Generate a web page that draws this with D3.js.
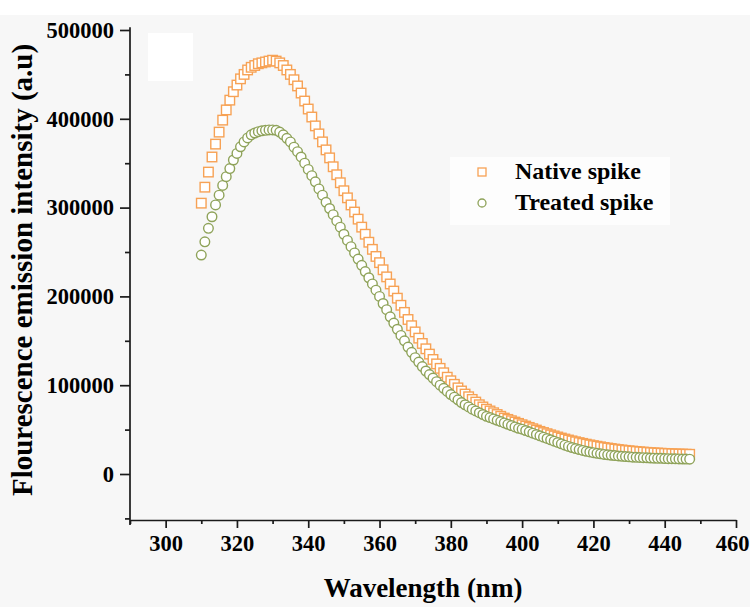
<!DOCTYPE html>
<html>
<head>
<meta charset="utf-8">
<script src="https://cdn.jsdelivr.net/npm/d3@7"></script>
<style>
  html, body { margin: 0; padding: 0; background: #f7f7f7; }
  svg { display: block; }
  text { font-family: "Liberation Serif", "Times New Roman", serif; font-weight: bold; fill: #000; }
</style>
</head>
<body>
<div id="chart"></div>
<script>
// Fluorescence emission spectra, native vs treated spike

const wavelengths = d3.range(310, 448); // 310 ... 447 nm, 1 nm step

const nativeSpike = [
  305000, 323000, 340000, 357000, 371500, 385000, 398500, 410000, 421000, 430500, // 310-319
  438000, 445000, 450000, 455000, 458000, 460000, 462000, 463000, 464000, 465000, // 320-329
  466000, 465000, 463000, 460000, 455000, 450000, 444000, 437000, 429000, 420000, // 330-339
  411000, 402000, 392000, 383000, 374000, 365000, 356000, 346000, 337000, 328000, // 340-349
  319000, 311000, 303000, 295000, 287000, 278000, 270000, 261000, 253000, 245000, // 350-359
  238000, 230000, 222000, 214000, 206000, 198000, 190000, 182000, 174000, 167000, // 360-369
  160000, 153000, 147000, 141000, 135000, 129000, 124000, 119000, 114000, 109000, // 370-379
  105000, 101000, 97000, 93500, 90000, 87000, 84000, 81000, 78000, 75500,         // 380-389
  73000, 71000, 69000, 67000, 65000, 63000, 61500, 60000, 58500, 57000,           // 390-399
  55500, 54000, 52500, 51000, 49500, 48000, 46700, 45400, 44100, 42900,           // 400-409
  41700, 40500, 39400, 38300, 37300, 36300, 35400, 34500, 33600, 32800,           // 410-419
  32000, 31300, 30600, 29900, 29300, 28700, 28100, 27600, 27100, 26600,           // 420-429
  26200, 25800, 25400, 25000, 24700, 24400, 24100, 23800, 23600, 23400,           // 430-439
  23200, 23000, 22800, 22600, 22500, 22400, 22300, 22200                          // 440-447
];

const treatedSpike = [
  246600, 261500, 276700, 289700, 303000, 314000, 325000, 334800, 344000, 353600, // 310-319
  361000, 368500, 374000, 378500, 382000, 384000, 385500, 386500, 387000, 387500, // 320-329
  387500, 387000, 385000, 382000, 378000, 374000, 368000, 363000, 357000, 350000, // 330-339
  343000, 336000, 329000, 321000, 314000, 306000, 299000, 292000, 285000, 278000, // 340-349
  270000, 263000, 256000, 249000, 242000, 235000, 228000, 221000, 214000, 207000, // 350-359
  200000, 192000, 185000, 177000, 170000, 163000, 156000, 150000, 143000, 137000, // 360-369
  131000, 126000, 121000, 116000, 112000, 108000, 104000, 100000, 96500, 93000,   // 370-379
  89500, 86500, 83500, 80500, 78000, 75500, 73000, 71000, 69000, 67000,           // 380-389
  65000, 63500, 62000, 60500, 59000, 57500, 56000, 54500, 53000, 51500,           // 390-399
  50500, 49000, 47500, 46000, 44500, 43000, 41500, 40000, 38500, 37000,           // 400-409
  35500, 34000, 32500, 31000, 29800, 28600, 27500, 26500, 25600, 24800,           // 410-419
  24000, 23300, 22700, 22100, 21600, 21100, 20700, 20300, 19900, 19600,           // 420-429
  19300, 19000, 18800, 18600, 18400, 18200, 18000, 17800, 17700, 17600,           // 430-439
  17400, 17300, 17200, 17100, 17000, 16900, 16800, 16700                          // 440-447
];

const xTicks = [300, 320, 340, 360, 380, 400, 420, 440, 460];
const xMinorTicks = [290, 310, 330, 350, 370, 390, 410, 430, 450];
const yTicks = [0, 100000, 200000, 300000, 400000, 500000];
const yMinorTicks = [-50000, 50000, 150000, 250000, 350000, 450000];

const seriesNames = ['Native spike', 'Treated spike'];
const seriesColors = ['#f7a255', '#8fa35a'];

const width = 750;
const height = 607;

const svg = d3.select('#chart')
  .append('svg')
  .attr('width', width)
  .attr('height', height);

// background patches of the scanned figure
svg.append('rect').attr('x', 0).attr('y', 0).attr('width', width).attr('height', 15).attr('fill', '#ffffff');
svg.append('rect').attr('x', 148).attr('y', 33).attr('width', 45).attr('height', 48).attr('fill', '#ffffff');

const x = d3.scaleLinear().domain([290, 460]).range([130, 736]);
const y = d3.scaleLinear().domain([-51800, 500000]).range([520, 30]);

// Axes
const xAxis = svg.append('g')
  .attr('transform', 'translate(0,520)')
  .call(d3.axisBottom(x).tickValues(xTicks).tickSize(8).tickPadding(7).tickSizeOuter(0));

svg.append('g')
  .attr('transform', 'translate(0,520)')
  .call(d3.axisBottom(x).tickValues(xMinorTicks).tickSize(4).tickFormat('').tickSizeOuter(0))
  .call(g => g.select('.domain').remove());

const yAxis = svg.append('g')
  .attr('transform', 'translate(130,0)')
  .call(d3.axisLeft(y).tickValues(yTicks).tickSize(10).tickPadding(6).tickFormat(d3.format('d')).tickSizeOuter(0));

svg.append('g')
  .attr('transform', 'translate(130,0)')
  .call(d3.axisLeft(y).tickValues(yMinorTicks).tickSize(5).tickFormat('').tickSizeOuter(0))
  .call(g => g.select('.domain').remove());

// extend y axis line a bit like the original
yAxis.select('.domain').attr('d', `M0,${y(503000)}V525`);

svg.selectAll('.domain, .tick line')
  .attr('stroke', '#1a1a1a')
  .attr('stroke-width', 1.7);

svg.selectAll('.tick text')
  .style('font-size', '22.5px')
  .style('font-family', '"Liberation Serif", serif')
  .style('font-weight', 'bold')
  .attr('fill', '#000');

// last x label sits right at the page edge in the original; keep it inside
xAxis.selectAll('.tick text')
  .filter(d => d === 460)
  .attr('text-anchor', 'end')
  .attr('x', 13);

// Axis titles
svg.append('text')
  .attr('x', 423)
  .attr('y', 597)
  .attr('text-anchor', 'middle')
  .style('font-size', '27px')
  .text('Wavelength (nm)');

svg.append('text')
  .attr('transform', 'translate(32,270) rotate(-90)')
  .attr('text-anchor', 'middle')
  .style('font-size', '29px')
  .text('Flourescence emission intensity (a.u)');

// Data: native spike as hollow squares
const sq = 9.5;
svg.append('g')
  .selectAll('rect')
  .data(wavelengths.map((w, i) => [w, nativeSpike[i]]))
  .join('rect')
  .attr('x', d => x(d[0]) - sq / 2)
  .attr('y', d => y(d[1]) - sq / 2)
  .attr('width', sq)
  .attr('height', sq)
  .attr('fill', '#ffffff')
  .attr('stroke', seriesColors[0])
  .attr('stroke-width', 1.4);

// treated spike as hollow circles
svg.append('g')
  .selectAll('circle')
  .data(wavelengths.map((w, i) => [w, treatedSpike[i]]))
  .join('circle')
  .attr('cx', d => x(d[0]))
  .attr('cy', d => y(d[1]))
  .attr('r', 4.8)
  .attr('fill', '#ffffff')
  .attr('stroke', seriesColors[1])
  .attr('stroke-width', 1.4);

// Legend
const legend = svg.append('g');
legend.append('rect')
  .attr('x', 450).attr('y', 157).attr('width', 220).attr('height', 68)
  .attr('fill', '#fdfdfd');

legend.append('rect')
  .attr('x', 478).attr('y', 168).attr('width', 8).attr('height', 8)
  .attr('fill', '#ffffff')
  .attr('stroke', seriesColors[0])
  .attr('stroke-width', 1.3);

legend.append('circle')
  .attr('cx', 482).attr('cy', 203).attr('r', 4)
  .attr('fill', '#ffffff')
  .attr('stroke', seriesColors[1])
  .attr('stroke-width', 1.3);

legend.selectAll('text.label')
  .data(seriesNames)
  .join('text')
  .attr('class', 'label')
  .attr('x', 515)
  .attr('y', (d, i) => 179 + i * 31)
  .style('font-size', '24px')
  .text(d => d);
</script>
</body>
</html>
